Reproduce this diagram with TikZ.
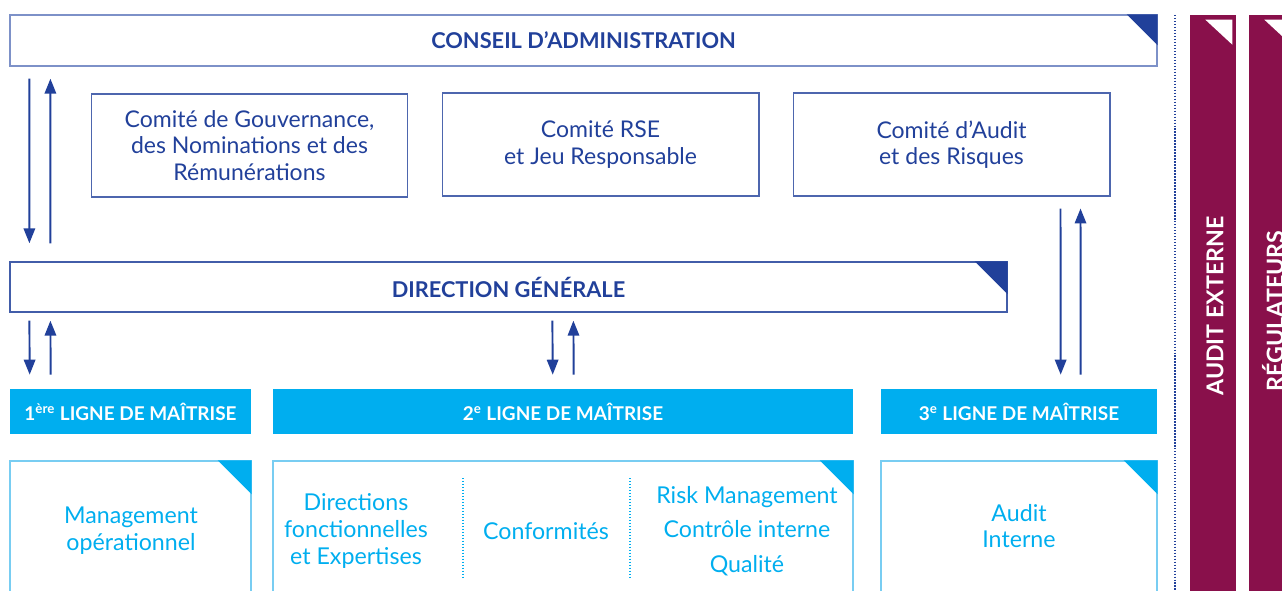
\documentclass[tikz,border=0pt]{standalone}
\usepackage{fontspec}
\setmainfont{Lato}
\usetikzlibrary{arrows.meta, positioning}
\definecolor{mynavy}{RGB}{33,64,154}
\definecolor{myframe}{RGB}{125,145,200}
\definecolor{mycyan}{RGB}{0,174,239}
\definecolor{mylightcyan}{RGB}{120,205,242}
\definecolor{mymaroon}{RGB}{137,16,75}
\tikzset{
  topbox/.style={rectangle, draw=myframe, line width=0.8pt, inner sep=0pt,
    font=\bfseries\fontsize{12.4}{14}\selectfont, text=mynavy},
  combox/.style={rectangle, draw=mynavy!80, line width=0.6pt, minimum width=6.34cm,
    minimum height=2.06cm, align=center, font=\fontsize{13.1}{15}\selectfont, text=mynavy},
  lignebar/.style={rectangle, fill=mycyan, minimum height=0.9cm, inner sep=0pt,
    text=white, font=\bfseries\fontsize{10.8}{12}\selectfont},
  unitbox/.style={rectangle, draw=mylightcyan, line width=0.8pt, minimum height=2.8cm, inner sep=0pt},
  unittxt/.style={align=center, text=mycyan, font=\fontsize{13.2}{15.3}\selectfont},
  sidebar/.style={rectangle, fill=mymaroon, minimum width=0.92cm, minimum height=12cm, inner sep=0pt},
  sidetxt/.style={rotate=90, text=white, font=\bfseries\fontsize{13.2}{15}\selectfont},
  arrow/.style={-{Triangle[width=6.5pt,length=8.5pt]}, line width=1.1pt, color=mynavy},
  sepline/.style={mycyan, line width=1pt, dash pattern=on 0.8pt off 0.9pt},
  vline/.style={mynavy, line width=1pt, dash pattern=on 0.8pt off 0.9pt}
}
\begin{document}
\begin{tikzpicture}[x=0.02cm, y=-0.02cm]
  \useasboundingbox (0,0) rectangle (1282,591);
  \clip (0,0) rectangle (1282,591);

  % Nodes
  \node[topbox, minimum width=22.94cm, minimum height=1.02cm] (ca) at (583.5,40.5) {CONSEIL D'ADMINISTRATION};
  \node[combox] (cgnr) at (249.5,145.5) {Comité de Gouvernance,\\des Nominations et des\\Rémunérations};
  \node[combox] (crse) at (600.5,144.5) {Comité RSE\\et Jeu Responsable};
  \node[combox] (car) at (951.5,144.5) {Comité d’Audit\\et des Risques};
  \node[topbox, draw=mynavy!85, minimum width=19.94cm, minimum height=1cm] (dg) at (508.5,287) {DIRECTION GÉNÉRALE};

  \node[lignebar, minimum width=4.82cm] (l1) at (130.5,411.5) {1\textsuperscript{ère} LIGNE DE MAÎTRISE};
  \node[lignebar, minimum width=11.6cm] (l2) at (563,411.5) {2\textsuperscript{e} LIGNE DE MAÎTRISE};
  \node[lignebar, minimum width=5.52cm] (l3) at (1019,411.5) {3\textsuperscript{e} LIGNE DE MAÎTRISE};

  \node[unitbox, minimum width=4.82cm] (u1) at (130.5,531) {};
  \node[unitbox, minimum width=11.6cm] (u2) at (563,531) {};
  \node[unitbox, minimum width=5.52cm] (u3) at (1019,531) {};
  \node[unittxt] (mo) at (131,531) {Management\\opérationnel};
  \node[unittxt] (dfe) at (356,531) {Directions\\fonctionnelles\\et Expertises};
  \node[unittxt] (conf) at (546,531) {Conformités};
  \node[unittxt, font=\fontsize{13.2}{19.5}\selectfont] (rm) at (747,531) {Risk Management\\Contrôle interne\\Qualité};
  \node[unittxt] (ai) at (1019,526) {Audit\\Interne};

  \node[sidebar] (ae) at (1213,315) {};
  \node[sidebar] (reg) at (1272,315) {};
  \node[sidetxt] at (1215,306) {AUDIT EXTERNE};
  \node[sidetxt] at (1273,311) {RÉGULATEURS};

  % Corners
  \fill[mynavy] (ca.north east) -- ++(-31,0) -- ++(31,31) -- cycle;
  \fill[mynavy] (dg.north east) -- ++(-33,0) -- ++(33,33) -- cycle;
  \fill[mycyan] (u1.north east) -- ++(-34,0) -- ++(34,34) -- cycle;
  \fill[mycyan] (u2.north east) -- ++(-34,0) -- ++(34,34) -- cycle;
  \fill[mycyan] (u3.north east) -- ++(-34,0) -- ++(34,34) -- cycle;
  \fill[white] ([shift={(-31,5)}]ae.north east) -- ++(27,0) -- ++(0,25) -- cycle;
  \fill[white] ([shift={(-31,5)}]reg.north east) -- ++(27,0) -- ++(0,25) -- cycle;

  % Separators
  \draw[sepline] (463,478) -- (463,577);
  \draw[sepline] (630,478) -- (630,577);
  \draw[vline] (1175,15) -- (1175,591);

  % Arrows
  \draw[arrow] ([shift={(20,12)}]ca.south west) -- ([shift={(20,-18)}]dg.north west);
  \draw[arrow] ([shift={(41,-18)}]dg.north west) -- ([shift={(41,12)}]ca.south west);
  \draw[arrow] ([shift={(268,12)}]car.south west) -- ([shift={(180,-14)}]l3.north west);
  \draw[arrow] ([shift={(200,-14)}]l3.north west) -- ([shift={(288,12)}]car.south west);
  \draw[arrow] ([shift={(20,8)}]dg.south west) -- ([shift={(20,-14)}]l1.north west);
  \draw[arrow] ([shift={(41,-14)}]l1.north west) -- ([shift={(41,8)}]dg.south west);
  \draw[arrow] ([shift={(543,8)}]dg.south west) -- ([shift={(280,-14)}]l2.north west);
  \draw[arrow] ([shift={(301,-14)}]l2.north west) -- ([shift={(564,8)}]dg.south west);

\end{tikzpicture}
\end{document}
